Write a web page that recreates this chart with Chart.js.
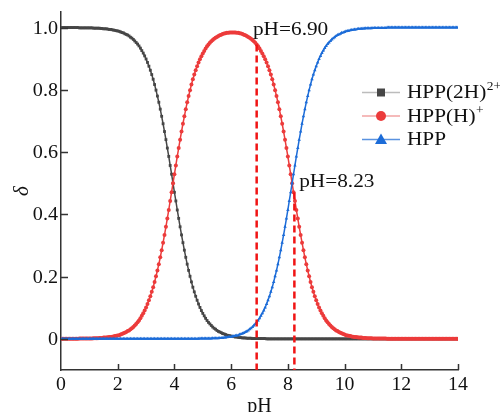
<!DOCTYPE html>
<html>
<head>
<meta charset="utf-8">
<script src="https://cdn.jsdelivr.net/npm/chart.js@4.4.0/dist/chart.umd.min.js"></script>
<style>
  html, body { margin: 0; padding: 0; background: #fff; }
  #wrap { width: 500px; height: 412px; }
</style>
</head>
<body>
<div id="wrap"><canvas id="myChart" width="500" height="412"></canvas></div>
<script>
// distribution fractions, every 0.05 pH unit (0 .. 14)
const phStep = 0.05;

const hpp2H = [
  1,1,1,1,1,1,1,1,1,1,1,1,1,.999,.999,.999,.999,.999,.999,.999,
  .999,.999,.999,.998,.998,.998,.998,.998,.997,.997,.996,.996,.996,.995,.994,.994,.993,.992,.991,.990,
  .989,.988,.986,.984,.983,.980,.978,.976,.973,.969,.966,.962,.957,.952,.947,.941,.934,.926,.918,.909,
  .899,.888,.876,.863,.849,.834,.817,.799,.780,.760,.738,.715,.691,.666,.640,.613,.586,.557,.529,.500,
  .471,.443,.414,.387,.360,.334,.309,.285,.262,.240,.220,.201,.183,.166,.151,.137,.124,.112,.101,.091,
  .082,.074,.066,.059,.053,.048,.043,.038,.034,.031,.027,.024,.022,.020,.017,.016,.014,.012,.011,.010,
  .009,.008,.007,.006,.006,.005,.004,.004,.003,.003,.003,.002,.002,.002,.002,.001,.001,.001,.001,.001,
  .001,.001,.001,.001,.001,0,0,0,0,0,0,0,0,0,0,0,0,0,0,0,
  0,0,0,0,0,0,0,0,0,0,0,0,0,0,0,0,0,0,0,0,
  0,0,0,0,0,0,0,0,0,0,0,0,0,0,0,0,0,0,0,0,
  0,0,0,0,0,0,0,0,0,0,0,0,0,0,0,0,0,0,0,0,
  0,0,0,0,0,0,0,0,0,0,0,0,0,0,0,0,0,0,0,0,
  0,0,0,0,0,0,0,0,0,0,0,0,0,0,0,0,0,0,0,0,
  0,0,0,0,0,0,0,0,0,0,0,0,0,0,0,0,0,0,0,0,
  0
];

const hppH = [
  0,0,0,0,0,0,0,0,0,0,0,0,0,.001,.001,.001,.001,.001,.001,.001,
  .001,.001,.001,.002,.002,.002,.002,.003,.003,.003,.004,.004,.004,.005,.006,.006,.007,.008,.009,.010,
  .011,.012,.014,.016,.018,.020,.022,.025,.027,.031,.034,.038,.043,.048,.053,.059,.066,.074,.082,.091,
  .101,.112,.124,.137,.151,.166,.183,.201,.220,.240,.262,.285,.309,.334,.360,.387,.414,.443,.471,.500,
  .529,.557,.586,.613,.640,.666,.691,.715,.738,.760,.780,.799,.817,.834,.849,.863,.876,.888,.898,.908,
  .917,.925,.933,.940,.946,.951,.956,.960,.964,.967,.970,.973,.975,.977,.979,.981,.982,.983,.983,.984,
  .984,.984,.984,.984,.983,.983,.982,.981,.979,.977,.975,.973,.970,.967,.964,.960,.956,.951,.946,.940,
  .933,.925,.917,.908,.898,.888,.876,.863,.849,.834,.817,.799,.780,.760,.738,.715,.691,.666,.640,.613,
  .586,.557,.529,.500,.471,.443,.414,.387,.360,.334,.309,.285,.262,.240,.220,.201,.183,.166,.151,.137,
  .124,.112,.101,.091,.082,.074,.066,.059,.053,.048,.043,.038,.034,.031,.027,.025,.022,.020,.018,.016,
  .014,.012,.011,.010,.009,.008,.007,.006,.006,.005,.004,.004,.004,.003,.003,.003,.002,.002,.002,.002,
  .001,.001,.001,.001,.001,.001,.001,.001,.001,.001,0,0,0,0,0,0,0,0,0,0,
  0,0,0,0,0,0,0,0,0,0,0,0,0,0,0,0,0,0,0,0,
  0,0,0,0,0,0,0,0,0,0,0,0,0,0,0,0,0,0,0,0,
  0
];

const hpp = [
  0,0,0,0,0,0,0,0,0,0,0,0,0,0,0,0,0,0,0,0,
  0,0,0,0,0,0,0,0,0,0,0,0,0,0,0,0,0,0,0,0,
  0,0,0,0,0,0,0,0,0,0,0,0,0,0,0,0,0,0,0,0,
  0,0,0,0,0,0,0,0,0,0,0,0,0,0,0,0,0,0,0,0,
  0,0,0,0,0,0,0,0,0,0,0,0,0,0,0,0,0,0,.001,.001,
  .001,.001,.001,.001,.001,.001,.001,.002,.002,.002,.002,.002,.003,.003,.003,.004,.004,.005,.006,.006,
  .007,.008,.009,.010,.011,.012,.014,.016,.017,.019,.022,.024,.027,.031,.034,.038,.043,.048,.053,.059,
  .066,.074,.082,.091,.101,.112,.124,.137,.151,.166,.183,.201,.220,.240,.262,.285,.309,.334,.360,.387,
  .414,.443,.471,.500,.529,.557,.586,.613,.640,.666,.691,.715,.738,.760,.780,.799,.817,.834,.849,.863,
  .876,.888,.899,.909,.918,.926,.934,.941,.947,.952,.957,.962,.966,.969,.973,.976,.978,.980,.983,.984,
  .986,.988,.989,.990,.991,.992,.993,.994,.994,.995,.996,.996,.996,.997,.997,.998,.998,.998,.998,.998,
  .999,.999,.999,.999,.999,.999,.999,.999,.999,.999,1,1,1,1,1,1,1,1,1,1,
  1,1,1,1,1,1,1,1,1,1,1,1,1,1,1,1,1,1,1,1,
  1,1,1,1,1,1,1,1,1,1,1,1,1,1,1,1,1,1,1,1,
  1
];

const xTicks = [0, 2, 4, 6, 8, 10, 12, 14];
const yTicks = [0, 0.2, 0.4, 0.6, 0.8, 1.0];
const yTickLabels = ['0', '0.2', '0.4', '0.6', '0.8', '1.0'];

// marked pH values (dashed lines) and their labels
const markPH = [6.90, 8.23];
const markTop = [0.946, 0.47];
const markText = ['pH=6.90', 'pH=8.23'];
const markTextX = [6.77, 8.40];
const markTextY = [0.975, 0.487];

const names = ['HPP(2H)', 'HPP(H)', 'HPP'];
const sups = ['2+', '+', ''];
const colors = ['#464646', '#ec3b3b', '#1c6cd8'];
const legendLine = ['#bcbcbc', '#f2a3a3', '#5a92e0'];
const shapes = ['rect', 'circle', 'triangle'];

const pH = hpp2H.map((_, i) => +(i * phStep).toFixed(2));
const pts = arr => arr.map((v, i) => ({ x: pH[i], y: v }));

const serif = '"Liberation Serif", "Times New Roman", serif';

// text in the source figure is a bit wider than plain Times
function text(ctx, str, x, y, size, align, sx) {
    ctx.save();
    ctx.translate(x, y);
    ctx.scale(sx, 1);
    ctx.font = size + 'px ' + serif;
    ctx.textAlign = align;
    ctx.textBaseline = 'alphabetic';
    ctx.fillText(str, 0, 0);
    const w = ctx.measureText(str).width * sx;
    ctx.restore();
    return w;
}

const extras = {
    id: 'extras',
    afterDraw(chart) {
        const { ctx, chartArea: a, scales: { x, y } } = chart;
        ctx.save();

        // inward tick marks
        ctx.strokeStyle = '#333';
        ctx.lineWidth = 1.5;
        ctx.beginPath();
        xTicks.forEach(v => {
            if (v === 0) return;
            const px = Math.round(x.getPixelForValue(v)) + 0.5;
            ctx.moveTo(px, a.bottom);
            ctx.lineTo(px, a.bottom - 6);
        });
        yTicks.forEach(v => {
            const py = Math.round(y.getPixelForValue(v)) + 0.5;
            ctx.moveTo(a.left, py);
            ctx.lineTo(a.left + 7, py);
        });
        ctx.stroke();

        ctx.fillStyle = '#111';
        // tick labels
        xTicks.forEach(v => text(ctx, String(v), x.getPixelForValue(v), a.bottom + 20, 18, 'center', 1.1));
        yTicks.forEach((v, i) => text(ctx, yTickLabels[i], a.left - 3, y.getPixelForValue(v) + 6, 18, 'right', 1.12));

        // pH labels
        markText.forEach((t, i) => {
            text(ctx, t, x.getPixelForValue(markTextX[i]), y.getPixelForValue(markTextY[i]), 19, 'left', 1.12);
        });

        // legend
        const lx0 = 362, lx1 = 400, mx = 381, tx = 407;
        const base = [98, 121.5, 145];
        names.forEach((n, i) => {
            const cy = base[i] - 5.5;
            ctx.strokeStyle = legendLine[i];
            ctx.lineWidth = 1.5;
            ctx.beginPath();
            ctx.moveTo(lx0, cy);
            ctx.lineTo(lx1, cy);
            ctx.stroke();
            ctx.fillStyle = colors[i];
            ctx.beginPath();
            if (shapes[i] === 'rect') {
                ctx.rect(mx - 4, cy - 4, 8, 8);
            } else if (shapes[i] === 'circle') {
                ctx.arc(mx, cy, 5, 0, Math.PI * 2);
            } else {
                ctx.moveTo(mx, cy - 6);
                ctx.lineTo(mx + 6, cy + 4.5);
                ctx.lineTo(mx - 6, cy + 4.5);
                ctx.closePath();
            }
            ctx.fill();

            ctx.fillStyle = '#111';
            const w = text(ctx, n, tx, base[i], 19, 'left', 1.12);
            if (sups[i]) text(ctx, sups[i], tx + w + 0.5, base[i] - 8, 12, 'left', 1.12);
        });
        ctx.restore();
    }
};

const series = [hpp2H, hppH, hpp];
const datasets = series.map((arr, i) => ({
    label: names[i] + sups[i],
    data: pts(arr),
    showLine: true,
    borderColor: colors[i],
    backgroundColor: colors[i],
    borderWidth: 1.5,
    pointStyle: shapes[i],
    pointRadius: 2,
    pointBorderWidth: 0,
    order: 3 - i,
}));

markPH.forEach((v, i) => {
    datasets.push({
        label: markText[i],
        data: [{ x: v, y: markTop[i] }, { x: v, y: -0.1 }],
        showLine: true,
        borderColor: '#f01414',
        borderWidth: 2.5,
        borderDash: [7, 4],
        pointRadius: 0,
        order: 0,
    });
});

new Chart(document.getElementById('myChart'), {
    type: 'scatter',
    data: { datasets },
    options: {
        responsive: false,
        animation: false,
        devicePixelRatio: 1,
        layout: { padding: { top: 12, right: 42, left: 0, bottom: 0 } },
        plugins: {
            legend: { display: false },
            tooltip: { enabled: false },
        },
        scales: {
            x: {
                type: 'linear',
                min: 0,
                max: 14,
                grid: { display: false },
                border: { display: true, color: '#333', width: 1.5 },
                afterFit: s => { s.height = 42; },
                afterBuildTicks: s => { s.ticks = xTicks.map(v => ({ value: v })); },
                ticks: { display: false },
                title: {
                    display: true,
                    text: 'pH',
                    color: '#111',
                    font: { family: serif, size: 20 },
                    padding: { top: 0, bottom: -6.5 },
                },
            },
            y: {
                type: 'linear',
                min: -0.1,
                max: 1.05,
                grid: { display: false },
                border: { display: true, color: '#333', width: 1.5 },
                afterFit: s => { s.width = 61; },
                afterBuildTicks: s => { s.ticks = yTicks.map(v => ({ value: v })); },
                ticks: { display: false },
                title: {
                    display: true,
                    text: 'δ',
                    color: '#111',
                    font: { family: serif, size: 21, style: 'italic' },
                    padding: { top: 10, bottom: 0 },
                },
            },
        },
    },
    plugins: [extras],
});
</script>
</body>
</html>
